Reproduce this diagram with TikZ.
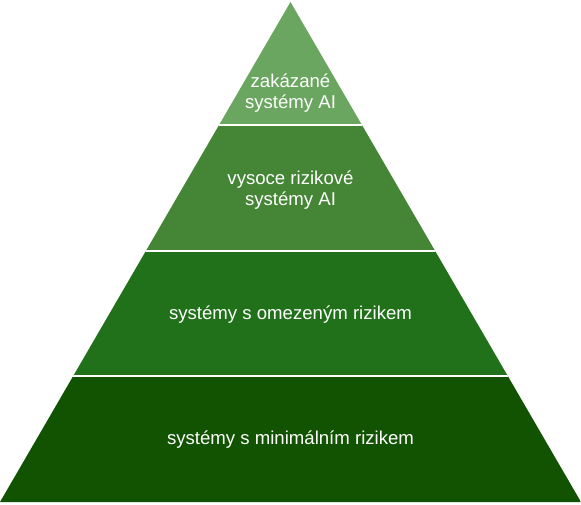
\documentclass[tikz,border=0pt]{standalone}
\usepackage{fontspec}
\setmainfont{Liberation Sans}
\definecolor{lvlA}{HTML}{6AA660}
\definecolor{lvlB}{HTML}{448536}
\definecolor{lvlC}{HTML}{21711A}
\definecolor{lvlD}{HTML}{125302}
\begin{document}
\begin{tikzpicture}[x=1pt,y=1pt,
  lbl/.style={text=white,align=center,font=\fontsize{18.6}{21}\selectfont,inner sep=0pt},
  sep/.style={draw=white,line width=1.6pt}]
\useasboundingbox (0,0) rectangle (581,504);
\coordinate (apex) at (290.5,502);
\coordinate (bl) at (0,2);
\coordinate (br) at (581,2);
\begin{scope}
\clip (bl) -- (br) -- (apex) -- cycle;
\fill[lvlD] (0,0) rectangle (581,128);
\fill[lvlC] (0,128) rectangle (581,253);
\fill[lvlB] (0,253) rectangle (581,379);
\fill[lvlA] (0,379) rectangle (581,504);
\draw[sep] (0,128) -- (581,128);
\draw[sep] (0,253) -- (581,253);
\draw[sep] (0,379) -- (581,379);
\end{scope}
\node[lbl] (t1) at (290.5,411) {zakázané\\systémy AI};
\node[lbl] (t2) at (290.5,314) {vysoce rizikové\\systémy AI};
\node[lbl] (t3) at (290.5,189) {systémy s omezeným rizikem};
\node[lbl] (t4) at (290.5,64) {systémy s minimálním rizikem};
\end{tikzpicture}
\end{document}
